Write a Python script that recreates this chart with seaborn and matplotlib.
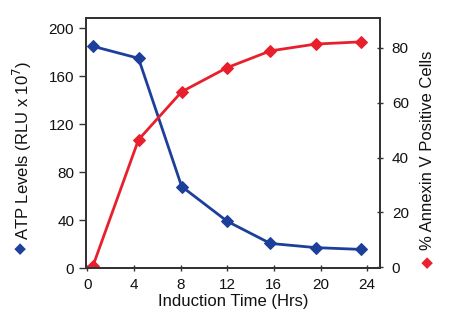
import matplotlib
matplotlib.use("Agg")
import matplotlib.pyplot as plt
import seaborn as sns
import pandas as pd

sns.set_theme(style="white")
plt.rcParams['font.family'] = ['Liberation Sans', 'DejaVu Sans']

time_hrs = [0.5, 4.4, 8.1, 12.0, 15.7, 19.6, 23.5]
atp_levels = [185, 175, 68, 39, 20.5, 17, 15.5]
annexin_pct = [0.5, 46.5, 64, 72.8, 78.9, 81.4, 82.2]
x_ticks = [0, 4, 8, 12, 16, 20, 24]
left_ticks = [0, 40, 80, 120, 160, 200]
right_ticks = [0, 20, 40, 60, 80]

blue = "#1c3f9a"
red = "#e8202e"

df = pd.DataFrame({"time": time_hrs, "atp": atp_levels, "annexin": annexin_pct})

fig = plt.figure(figsize=(4.5, 3.24), dpi=100)
ax = fig.add_axes([86/450, 1-268/324, (380-86)/450, (268-18)/324])
ax2 = ax.twinx()

sns.lineplot(data=df, x="time", y="atp", ax=ax, color=blue, marker="D",
             markersize=6.5, linewidth=2.0, markeredgecolor=blue)
sns.lineplot(data=df, x="time", y="annexin", ax=ax2, color=red, marker="D",
             markersize=6.5, linewidth=2.0, markeredgecolor=red)

ax.set_xlim(-0.1, 25.1)
ax.set_ylim(0, 208.6)
ax2.set_ylim(-0.3, 90.9)
ax.set_xticks(x_ticks)
ax.set_yticks(left_ticks)
ax2.set_yticks(right_ticks)

for a in (ax, ax2):
    for s in a.spines.values():
        s.set_color("#333333")
        s.set_linewidth(1.4)
        s.set_visible(True)

ax.tick_params(axis="x", direction="inout", length=5, width=1, colors="#333333",
               labelsize=11, labelcolor="#111111", pad=5, bottom=True)
ax.tick_params(axis="y", direction="out", length=5, width=1, colors="#333333",
               labelsize=11, labelcolor="#111111", left=True)
ax2.tick_params(axis="y", direction="inout", length=5, width=1, colors="#333333",
                labelsize=11, labelcolor="#111111", right=True, pad=6)

ax.set_xlabel("Induction Time (Hrs)", fontsize=12, color="#111111", labelpad=1)
ax.set_ylabel("")
ax2.set_ylabel("")

fig.text(22/450, 1-150/324, "ATP Levels (RLU x 10$^7$)", rotation=90,
         ha="center", va="center", fontsize=12, color="#111111")
fig.text(21/450, 1-248/324, "\u25C6", rotation=90, ha="center", va="center",
         fontsize=11, color=blue, family="DejaVu Sans")
fig.text(428/450, 1-150/324, "% Annexin V Positive Cells", rotation=90,
         ha="center", va="center", fontsize=12, color="#111111")
fig.text(428/450, 1-262/324, "\u25C6", rotation=90, ha="center", va="center",
         fontsize=11, color=red, family="DejaVu Sans")

fig.savefig("out.png", dpi=100)
